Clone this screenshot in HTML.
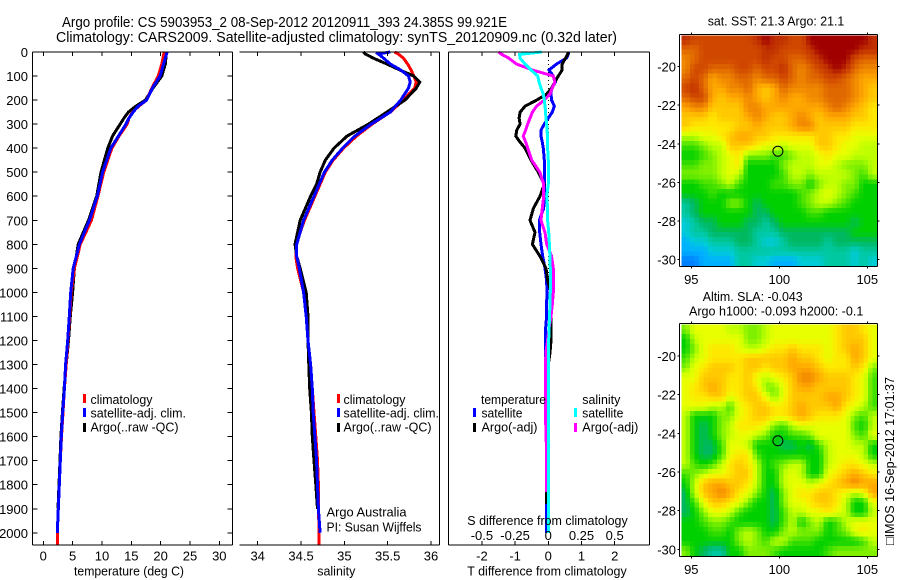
<!DOCTYPE html>
<html>
<head>
<meta charset="utf-8">
<title>Argo profile</title>
<style>
html,body{margin:0;padding:0;background:#fff}
svg{display:block}
text{font-family:"Liberation Sans",sans-serif;font-size:13px;fill:#000}
</style>
</head>
<body>
<svg id="chart" xmlns="http://www.w3.org/2000/svg" width="900" height="580" viewBox="0 0 900 580">
<rect x="0" y="0" width="900" height="580" fill="#fff"/>
<g id="layer-maps"></g>
<g id="layer-series"></g>
<g id="layer-axes"></g>
<g>
<text x="62" y="27" textLength="445" lengthAdjust="spacingAndGlyphs" style="font-size:14.5px">Argo profile: CS 5903953_2 08-Sep-2012 20120911_393 24.385S 99.921E</text>
<text x="56" y="42" textLength="561" lengthAdjust="spacingAndGlyphs" style="font-size:14.5px">Climatology: CARS2009. Satellite-adjusted climatology: synTS_20120909.nc (0.32d later)</text>
<text x="707.7" y="25.7" textLength="136.6" lengthAdjust="spacingAndGlyphs">sat. SST: 21.3 Argo: 21.1</text>
<text x="702.7" y="301" textLength="100" lengthAdjust="spacingAndGlyphs">Altim. SLA: -0.043</text>
<text x="689" y="315.7" textLength="174.3" lengthAdjust="spacingAndGlyphs">Argo h1000: -0.093 h2000: -0.1</text>
<text transform="translate(894,545) rotate(-90)" x="0" y="0" textLength="168" lengthAdjust="spacingAndGlyphs">□IMOS 16-Sep-2012 17:01:37</text>
</g>
<g>
<text x="74" y="575.7" textLength="110" lengthAdjust="spacingAndGlyphs">temperature (deg C)</text>
<text x="317.3" y="575.7" textLength="38" lengthAdjust="spacingAndGlyphs">salinity</text>
<text x="467.3" y="575.7" textLength="159.4" lengthAdjust="spacingAndGlyphs">T difference from climatology</text>
<text x="467.3" y="525" textLength="160.4" lengthAdjust="spacingAndGlyphs">S difference from climatology</text>
</g>
<g>
<rect x="83" y="394" width="3" height="9" fill="#f00"/>
<rect x="83" y="408" width="3" height="9" fill="#00f"/>
<rect x="83" y="423" width="3" height="9" fill="#000"/>
<text x="90.5" y="404" textLength="62" lengthAdjust="spacingAndGlyphs">climatology</text>
<text x="90.5" y="417.5" textLength="95.5" lengthAdjust="spacingAndGlyphs">satellite-adj. clim.</text>
<text x="90.5" y="431.5" textLength="88" lengthAdjust="spacingAndGlyphs">Argo(..raw -QC)</text>
</g>
<g>
<rect x="337" y="394" width="3" height="9" fill="#f00"/>
<rect x="337" y="408" width="3" height="9" fill="#00f"/>
<rect x="337" y="423" width="3" height="9" fill="#000"/>
<text x="343.5" y="404" textLength="62" lengthAdjust="spacingAndGlyphs">climatology</text>
<text x="343.5" y="417.5" textLength="95.5" lengthAdjust="spacingAndGlyphs">satellite-adj. clim.</text>
<text x="343.5" y="431.5" textLength="88" lengthAdjust="spacingAndGlyphs">Argo(..raw -QC)</text>
<text x="326.5" y="516.7" textLength="80" lengthAdjust="spacingAndGlyphs">Argo Australia</text>
<text x="326.5" y="531.7" textLength="95" lengthAdjust="spacingAndGlyphs">PI: Susan Wijffels</text>
</g>
<g>
<text x="481" y="404" textLength="65" lengthAdjust="spacingAndGlyphs">temperature</text>
<text x="582.3" y="404" textLength="38" lengthAdjust="spacingAndGlyphs">salinity</text>
<rect x="473" y="408" width="3" height="9" fill="#00f"/>
<rect x="473" y="423" width="3" height="9" fill="#000"/>
<rect x="574" y="408" width="3" height="9" fill="#0ff"/>
<rect x="574" y="423" width="3" height="9" fill="#f0f"/>
<text x="481.5" y="417.5" textLength="41" lengthAdjust="spacingAndGlyphs">satellite</text>
<text x="481.5" y="431.5" textLength="56" lengthAdjust="spacingAndGlyphs">Argo(-adj)</text>
<text x="582.3" y="417.5" textLength="41" lengthAdjust="spacingAndGlyphs">satellite</text>
<text x="582.3" y="431.5" textLength="56" lengthAdjust="spacingAndGlyphs">Argo(-adj)</text>
</g>
</svg>
<script>
// ---- tick labels ----
const depthTicks = [0,100,200,300,400,500,600,700,800,900,1000,1100,1200,1300,1400,1500,1600,1700,1800,1900,2000];
const tempTicks = [0,5,10,15,20,25,30];
const salTicks = [34,34.5,35,35.5,36];
const dtTicks = [-2,-1,0,1,2];
const dsTicks = [-0.5,-0.25,0,0.25,0.5];
const lonTicks = [95,100,105];
const latTicks = [20,22,24,26,28,30];

// ---- temperature profiles ----
const tempDepths = [0,50,100,150,200,225,250,275,300,350,400,500,600,700,800,900,1000,1100,1200,1300,1400,1500,1600,1700,1800,1900,2000,2050];
const tempClim = [20.6,20.2,19.6,18.5,17.6,16.3,15.2,14.6,14.3,12.9,11.7,10.3,9.3,8.2,6.3,5.3,4.75,4.5,4.2,3.9,3.6,3.35,3.1,2.9,2.73,2.56,2.39,2.39];
const tempSat = [21.1,20.5,19.9,18.6,17.6,16.2,15.3,14.6,14.1,12.8,11.5,10.1,9.2,7.85,6.15,5.1,4.67,4.44,4.16,3.8,3.6,3.3,3.07,2.9,2.73,2.56,2.39,null];
const tempArgo = [21.0,20.8,20.2,18.7,17.4,15.8,14.5,13.75,13.1,11.8,11.0,9.84,9.1,7.7,5.95,5.3,5.0,4.6,4.3,3.9,3.55,3.25,3.0,2.85,2.68,2.5,null,null];

// ---- salinity profiles ----
const salDepths = [0,8,25,50,75,100,125,150,200,250,300,350,400,450,500,550,600,700,800,850,900,1000,1100,1200,1300,1400,1500,1600,1700,1800,1900,2000,2050];
const salClim = [35.58,35.62,35.68,35.73,35.77,35.80,35.83,35.81,35.68,35.53,35.32,35.14,34.99,34.87,34.78,34.72,34.66,34.54,34.44,34.44,34.46,34.53,34.57,34.58,34.61,34.63,34.65,34.67,34.69,34.70,34.70,34.71,34.71];
const salSat = [35.53,35.39,35.45,35.53,35.65,35.74,35.76,35.74,35.65,35.53,35.31,35.12,34.98,34.86,34.77,34.71,34.65,34.53,34.45,34.45,34.48,34.53,34.56,34.58,34.61,34.63,34.64,34.66,34.68,34.69,34.70,34.72,null];
const salArgo = [35.22,35.24,35.33,35.49,35.64,35.80,35.87,35.83,35.70,35.49,35.28,35.03,34.88,34.78,34.72,34.68,34.61,34.49,34.43,34.45,34.49,34.56,34.58,34.58,34.59,34.60,34.62,34.63,34.65,34.67,34.69,null,null];

// ---- difference profiles ----
const diffDepths = [0,10,25,50,75,100,125,150,175,200,225,250,275,300,325,350,375,400,450,500,550,600,650,700,750,800,850,900,950,1000,1050,1100,1150,1200,1250,1300,1400,1500,1600,1650,1700,1830,1880,2000];
const dtSat = [0.62,0.6,0.55,0.25,0.02,0.15,0.22,0.10,0.08,0.10,0.18,0.12,0,-0.12,-0.22,-0.22,-0.18,-0.15,-0.12,-0.12,-0.12,-0.12,-0.14,-0.27,-0.26,-0.22,-0.17,-0.10,-0.05,-0.04,-0.05,-0.05,-0.08,-0.08,-0.08,-0.07,-0.07,-0.06,-0.06,-0.06,-0.06,-0.06,-0.06,-0.06];
const dtArgo = [0.6,0.58,0.52,0.42,0.42,0.30,0.20,0.10,-0.05,-0.35,-0.70,-0.85,-0.88,-0.85,-0.95,-0.98,-0.85,-0.70,-0.52,-0.30,-0.12,-0.25,-0.45,-0.55,-0.40,-0.48,-0.25,-0.07,-0.02,0.08,0.10,0.08,0.08,0.08,0.05,0,-0.05,-0.06,-0.06,-0.06,-0.06,-0.06,-0.06,null];
const dsSat = [-0.05,-0.216,-0.213,-0.176,-0.13,-0.08,-0.07,-0.055,-0.038,-0.03,-0.025,-0.02,-0.018,-0.012,-0.01,-0.005,-0.005,-0.005,0,0,0,-0.012,-0.005,-0.005,0.003,0.008,0.012,0.015,0.015,0.015,0.012,0.01,0.005,0.003,0.003,0.003,0.003,0.003,0.003,0.003,0.003,0.003,0.003,0.003];
const dsArgo = [-0.376,-0.35,-0.30,-0.24,-0.12,0.038,0.05,0.03,0.012,-0.03,-0.088,-0.12,-0.138,-0.155,-0.17,-0.188,-0.17,-0.155,-0.125,-0.063,-0.035,-0.035,-0.045,-0.055,-0.025,-0.012,0.025,0.038,0.038,0.038,0.03,0.02,0.005,-0.005,-0.018,-0.02,-0.02,-0.02,-0.018,-0.012,-0.012,-0.012,null,null];

// ---- map values: colour-scale level per cell (rows north to south) ----
const sstLevels = [
[16,15,15,15,15,15,15,15,16,17,16,16,15,15,17,17,17,17,17,17,17,16],
[14,14,15,15,15,15,15,15,15,16,16,15,15,15,16,17,17,17,17,17,16,16],
[13,14,15,15,15,15,15,15,15,16,15,15,14,14,15,16,17,17,17,15,14,14],
[13,15,15,14,14,14,15,15,14,15,15,16,14,13,14,15,16,17,16,14,13,13],
[14,15,14,12,13,13,14,14,13,14,14,15,14,13,14,14,15,15,14,13,12,12],
[15,16,14,12,12,13,13,14,12,11,12,14,13,13,13,13,14,14,14,13,12,11],
[14,15,15,12,11,12,12,13,12,11,12,13,12,12,13,13,14,14,14,13,12,11],
[12,13,13,11,11,11,11,13,13,12,12,12,12,12,12,12,13,14,13,12,11,10],
[11,11,11,10,11,11,11,12,13,12,11,11,12,13,12,11,12,12,12,11,11,10],
[11,10,10,10,10,10,11,11,12,11,11,11,12,13,13,11,11,11,11,10,10,10],
[8,8,9,9,10,11,12,12,11,11,10,10,10,10,10,11,11,10,10,9,9,9],
[6,6,7,8,8,11,11,11,10,9,9,8,9,9,9,11,11,10,9,9,8,8],
[5,5,6,7,8,9,10,7,7,7,6,6,7,8,8,9,10,9,9,8,8,8],
[6,6,7,7,8,9,10,5,5,5,5,7,8,8,8,9,9,8,7,7,7,8],
[7,7,7,7,8,9,8,5,5,5,5,6,8,8,7,8,8,8,8,7,6,8],
[5,5,6,6,7,8,6,5,5,5,6,6,7,7,5,7,8,8,7,7,5,5],
[5,5,5,6,5,5,5,5,5,5,5,5,5,6,7,8,9,8,7,6,5,5],
[3,4,5,5,5,7,7,5,4,5,5,5,5,6,7,8,8,7,6,5,5,5],
[3,4,5,5,5,5,5,5,4,4,5,5,5,5,6,6,5,5,5,5,5,5],
[2,3,4,4,5,5,5,4,4,3,4,5,5,5,5,5,5,5,5,4,5,5],
[2,3,3,4,4,4,4,4,3,3,3,4,4,4,4,4,4,4,4,5,5,5],
[1,2,2,3,3,3,4,4,3,2,2,3,4,4,4,4,3,4,4,4,4,4],
[1,1,1,2,2,2,3,3,3,3,3,3,3,3,3,3,3,3,3,2,3,3],
[0,0,1,1,1,1,3,3,2,2,1,1,1,2,2,2,3,3,3,2,3,2]
];
const slaLevels = [
[7,9,9,9,9,8,8,7,7,8,9,9,9,9,9,9,9,10,11,11,10,9],
[5,8,9,9,9,9,9,7,7,8,9,9,9,9,9,9,9,10,11,11,11,9],
[5,7,9,10,10,10,9,8,8,9,10,10,11,10,10,10,9,10,11,12,11,9],
[6,8,9,10,10,10,10,11,11,11,11,11,12,11,11,10,9,10,10,12,11,9],
[7,9,10,11,11,11,10,11,11,10,11,11,12,12,12,11,10,10,10,11,10,7],
[9,9,11,11,11,10,10,11,9,8,9,10,11,13,13,12,11,11,11,10,9,6],
[9,10,11,12,11,10,10,11,10,7,7,9,11,12,12,11,11,11,11,10,9,6],
[9,10,10,11,11,9,10,11,11,9,7,9,11,11,11,11,12,12,11,10,9,6],
[9,9,9,8,8,6,9,10,11,11,10,10,11,12,11,11,11,12,10,9,8,6],
[8,5,5,5,7,7,9,10,11,11,10,10,11,12,11,10,10,10,9,7,6,8],
[8,5,4,5,7,8,10,10,10,9,7,6,8,9,9,9,9,9,9,6,5,8],
[8,5,4,5,7,8,9,9,8,7,5,5,6,6,7,9,9,9,9,7,6,9],
[8,5,4,4,6,9,9,8,5,5,5,4,4,5,4,6,8,9,9,8,8,5],
[8,5,4,4,6,9,10,10,6,5,5,5,5,5,5,5,8,9,9,9,8,5],
[8,6,5,6,8,10,11,10,8,5,6,7,8,8,5,5,8,9,10,10,9,8],
[6,7,8,9,9,10,11,11,8,5,5,8,9,8,5,5,9,10,11,12,11,10],
[5,8,11,12,12,11,11,10,8,5,5,8,9,9,8,9,10,11,12,13,12,12],
[4,8,11,12,13,12,10,9,7,5,4,7,9,10,10,11,11,10,9,8,9,12],
[4,6,9,11,11,10,9,7,5,5,4,7,9,9,10,11,11,10,8,5,5,9],
[4,5,7,9,9,8,6,5,5,5,4,6,8,8,9,9,10,9,8,5,5,8],
[5,5,6,7,7,6,5,5,5,5,4,6,8,5,7,8,5,6,8,9,9,9],
[5,5,5,6,6,5,7,8,7,5,5,7,8,7,7,7,5,6,7,9,10,9],
[5,5,5,5,5,5,7,8,7,6,8,8,6,6,6,5,5,5,5,5,6,8],
[7,5,4,3,3,5,5,7,7,7,6,5,5,5,5,5,6,7,7,7,7,7]
];
const scaleColors = ['#0080ff','#00b0ff','#00ccd8','#00c8a0','#00b860','#00d000','#40e000','#80f000','#c0ff00','#e8ff00','#ffe800','#ffc800','#ffa800','#f08800','#e06800','#d04800','#c03000','#a00000'];
const profileLon = [99.921];
const profileLat = [24.385];

// ---- axis functions ----
const yDepth = d => 52 + d * 0.2404;
const xTemp = t => 43.3 + t * 5.867;
const xSal = s => 257.7 + (s - 34) * 86.67;
const xDT = v => 548.3 + v * 33.2;
const xDS = v => 548.3 + v * 132.8;
const mapX = lon => 779.3 + (lon - 100) * 17.6;
const map1Y = lat => 66.7 + (lat - 20) * 19.27;
const map2Y = lat => 356 + (lat - 20) * 19.33;

const NS = 'http://www.w3.org/2000/svg';
const axesLayer = document.getElementById('layer-axes');
const seriesLayer = document.getElementById('layer-series');
const mapsLayer = document.getElementById('layer-maps');

function line(parent, x1, y1, x2, y2) {
  const el = document.createElementNS(NS, 'line');
  el.setAttribute('x1', x1);
  el.setAttribute('y1', y1);
  el.setAttribute('x2', x2);
  el.setAttribute('y2', y2);
  el.setAttribute('stroke', '#000');
  el.setAttribute('stroke-width', 1);
  el.setAttribute('shape-rendering', 'crispEdges');
  parent.appendChild(el);
  return el;
}
function label(parent, x, y, str, anchor) {
  const el = document.createElementNS(NS, 'text');
  el.setAttribute('x', x);
  el.setAttribute('y', y);
  el.setAttribute('text-anchor', anchor);
  el.textContent = str;
  parent.appendChild(el);
  return el;
}
function profile(depths, values, xFn, color) {
  const pts = [];
  depths.forEach((d, i) => {
    if (values[i] !== null) pts.push(xFn(values[i]).toFixed(1) + ',' + yDepth(d).toFixed(1));
  });
  const el = document.createElementNS(NS, 'polyline');
  el.setAttribute('points', pts.join(' '));
  el.setAttribute('fill', 'none');
  el.setAttribute('stroke', color);
  el.setAttribute('stroke-width', 3);
  el.setAttribute('shape-rendering', 'crispEdges');
  seriesLayer.appendChild(el);
  return el;
}
function hexToRgb(h) {
  return [parseInt(h.substr(1, 2), 16), parseInt(h.substr(3, 2), 16), parseInt(h.substr(5, 2), 16)];
}
function colorOf(v) {
  const c = Math.max(0, Math.min(scaleColors.length - 1, v));
  const lo = Math.floor(c);
  const hi = Math.min(scaleColors.length - 1, lo + 1);
  const a = hexToRgb(scaleColors[lo]);
  const b = hexToRgb(scaleColors[hi]);
  const f = c - lo;
  return 'rgb(' + a.map((q, i) => Math.round(q + (b[i] - q) * f)).join(',') + ')';
}
function sampleLevel(levels, r, c) {
  const rr = Math.max(0, Math.min(levels.length - 1, r));
  const cc = Math.max(0, Math.min(levels[0].length - 1, c));
  const r0 = Math.floor(rr), c0 = Math.floor(cc);
  const r1 = Math.min(levels.length - 1, r0 + 1), c1 = Math.min(levels[0].length - 1, c0 + 1);
  const fr = rr - r0, fc = cc - c0;
  return levels[r0][c0] * (1 - fr) * (1 - fc) + levels[r0][c1] * (1 - fr) * fc + levels[r1][c0] * fr * (1 - fc) + levels[r1][c1] * fr * fc;
}

// ---- profile panels frames ----
const panelTop = yDepth(0);
const panelBottom = 545;
const p1L = 32.5, p1R = 232.5, p2L = 239.5, p2R = 439.5, p3L = 448.5, p3R = 649.5;

[[p1L, p1R], [p2L, p2R], [p3L, p3R]].forEach(function (p) {
  const t = line(axesLayer, p[0], panelTop, p[1], panelTop);
  
  
  const b = line(axesLayer, p[0], panelBottom, p[1], panelBottom);
  
  
  const r = line(axesLayer, p[1], panelTop, p[1], panelBottom);
  
  
});
[p1L, p3L].forEach(function (x) {
  const l = line(axesLayer, x, panelTop, x, panelBottom);
  
  
});

depthTicks.forEach(function (d) {
  const y = yDepth(d);
  const a = line(axesLayer, p1L, y, p1L + 5, y);
  
  
  const b = line(axesLayer, p1R - 5, y, p1R, y);
  
  
  const t = label(axesLayer, 28, y + 5, String(d), 'end');
  
  
});

function xTicks(values, xFn, nameBase, fmt, baseline, withLabel) {
  values.forEach(function (v) {
    const x = xFn(v);
    const a = line(axesLayer, x, panelTop, x, panelTop + 4);
    
    
    const b = line(axesLayer, x, panelBottom - 4, x, panelBottom);
    
    
    if (withLabel) {
      const t = label(axesLayer, x, baseline, fmt(v), 'middle');
      
      
    }
  });
}
xTicks(tempTicks, xTemp, 'temperature', String, 560.7, true);
xTicks(salTicks, xSal, 'salinity', String, 560.7, true);
xTicks(dtTicks, xDT, 't-difference', String, 560.7, true);
dsTicks.forEach(function (v) {
  const t = label(axesLayer, xDS(v), 540, String(v), 'middle');
  
  
});

// zero reference
const zeroLine = line(seriesLayer, xDT(0), panelTop, xDT(0), yDepth(1000));
zeroLine.setAttribute('stroke-dasharray', '1 3');



// ---- series ----
const s1 = profile(tempDepths, tempArgo, xTemp, '#000');


const s2 = profile(tempDepths, tempClim, xTemp, '#f00');


const s3 = profile(tempDepths, tempSat, xTemp, '#00f');


const s4 = profile(salDepths, salClim, xSal, '#f00');


const s5 = profile(salDepths, salArgo, xSal, '#000');


const s6 = profile(salDepths, salSat, xSal, '#00f');


const s7 = profile(diffDepths, dtSat, xDT, '#00f');


const s8 = profile(diffDepths, dtArgo, xDT, '#000');


const s9 = profile(diffDepths, dsArgo, xDS, '#f0f');


const s10 = profile(diffDepths, dsSat, xDS, '#0ff');



// ---- maps ----
const lonW = 94.43, lonE = 105.55, latN = 18.37, latS = 30.33;
const subdivide = 2;
function drawMap(levels, yFn, nameBase, frameTop, frameBottom, xLabelY) {
  const nRows = levels.length * subdivide;
  const nCols = levels[0].length * subdivide;
  const dLon = (lonE - lonW) / nCols;
  const dLat = (latS - latN) / nRows;
  for (let r = 0; r < nRows; r++) {
    for (let c = 0; c < nCols; c++) {
      const v = sampleLevel(levels, (r + 0.5) / subdivide - 0.5, (c + 0.5) / subdivide - 0.5);
      const x0 = mapX(lonW + c * dLon);
      const x1 = mapX(lonW + (c + 1) * dLon);
      const y0 = yFn(latN + r * dLat);
      const y1 = yFn(latN + (r + 1) * dLat);
      const cell = document.createElementNS(NS, 'rect');
      cell.setAttribute('x', x0.toFixed(2));
      cell.setAttribute('y', y0.toFixed(2));
      cell.setAttribute('width', (x1 - x0 + 0.3).toFixed(2));
      cell.setAttribute('height', (y1 - y0 + 0.3).toFixed(2));
      cell.setAttribute('fill', colorOf(v));
      cell.setAttribute('shape-rendering', 'crispEdges');
      
      
      mapsLayer.appendChild(cell);
    }
  }
  const L = 679.5, R = 877.5;
  const edges = [[L, frameTop, R, frameTop], [L, frameBottom, R, frameBottom], [L, frameTop, L, frameBottom], [R, frameTop, R, frameBottom]];
  edges.forEach(function (e) {
    const b = line(mapsLayer, e[0], e[1], e[2], e[3]);
    
    
  });
  latTicks.forEach(function (lat) {
    const y = yFn(lat);
    const a = line(mapsLayer, L - 2, y, L, y);
    
    
    const b = line(mapsLayer, R, y, R + 2, y);
    
    
    const t = label(mapsLayer, 676, y + 5, '-' + lat, 'end');
    
    
  });
  lonTicks.forEach(function (lon) {
    const x = mapX(lon);
    const a = line(mapsLayer, x, frameTop - 2, x, frameTop);
    
    
    const b = line(mapsLayer, x, frameBottom, x, frameBottom + 2);
    
    
    const t = label(mapsLayer, x, xLabelY, String(lon), 'middle');
    
    
  });
  profileLon.forEach(function (lon, i) {
    const m = document.createElementNS(NS, 'circle');
    m.setAttribute('cx', mapX(lon));
    m.setAttribute('cy', yFn(profileLat[i]));
    m.setAttribute('r', 5);
    m.setAttribute('fill', 'none');
    m.setAttribute('stroke', '#000');
    m.setAttribute('stroke-width', 1);
    
    
    mapsLayer.appendChild(m);
  });
}
drawMap(sstLevels, map1Y, 'sst-map', 34.5, 266.5, 284);
drawMap(slaLevels, map2Y, 'sla-map', 323.5, 556.5, 574);
</script>
</body>
</html>
